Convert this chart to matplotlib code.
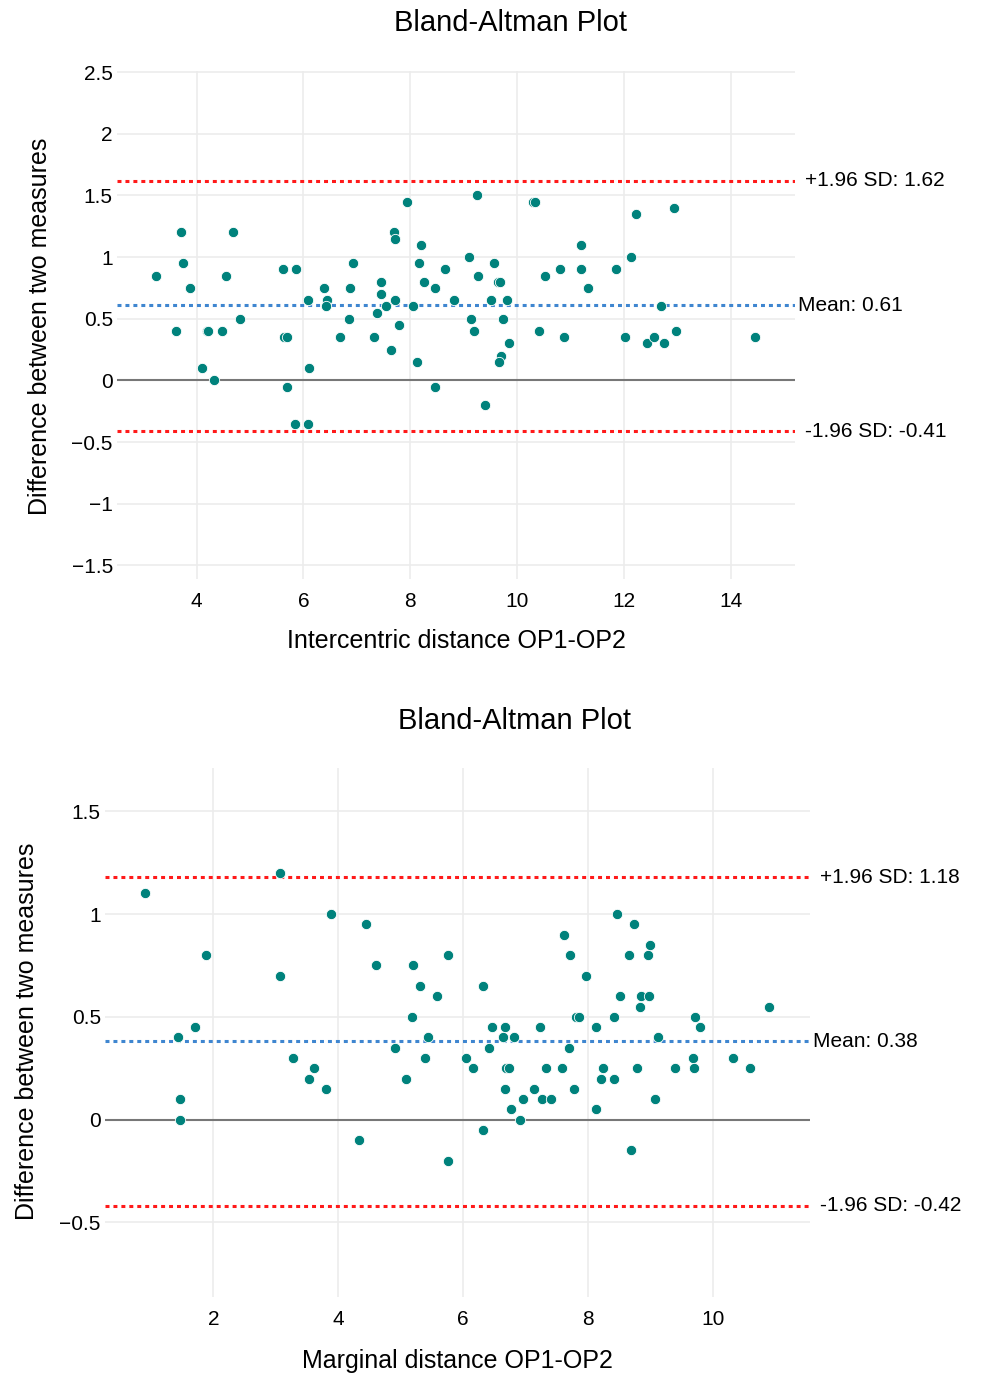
# Bland-Altman plots for OP1-OP2 distances
import matplotlib
matplotlib.use("Agg")
import matplotlib.pyplot as plt
from matplotlib.ticker import FuncFormatter

plt.rcParams['font.family'] = ['Liberation Sans', 'DejaVu Sans']

# intercentric distance: mean of two measures (x) and difference (y)
inter_x = [3.24, 3.70, 3.74, 3.88, 3.61, 4.11, 4.19, 4.22, 4.33, 4.48, 4.55, 4.68, 4.82,
           5.61, 5.87, 5.64, 5.70, 5.70, 5.84, 6.09, 6.09, 6.11, 6.39, 6.44, 6.42, 6.68,
           6.88, 6.93, 6.86, 7.33, 7.38, 7.46, 7.46, 7.55, 7.63, 7.69, 7.72, 7.72, 7.78,
           7.93, 8.05, 8.13, 8.17, 8.20, 8.25, 8.47, 8.47, 8.65, 8.82, 9.24, 9.09, 9.27,
           9.14, 9.19, 9.39, 9.56, 9.64, 9.68, 9.51, 9.81, 9.74, 9.84, 9.69, 9.66, 10.30,
           10.34, 10.40, 10.53, 10.80, 10.88, 11.20, 11.20, 11.33, 11.85, 12.02, 12.14,
           12.22, 12.44, 12.57, 12.69, 12.74, 12.94, 12.98, 14.45]
inter_y = [0.85, 1.20, 0.95, 0.75, 0.40, 0.10, 0.40, 0.40, 0.00, 0.40, 0.85, 1.20, 0.50,
           0.90, 0.90, 0.35, 0.35, -0.05, -0.35, -0.35, 0.65, 0.10, 0.75, 0.65, 0.60, 0.35,
           0.75, 0.95, 0.50, 0.35, 0.55, 0.80, 0.70, 0.60, 0.25, 1.20, 1.15, 0.65, 0.45,
           1.45, 0.60, 0.15, 0.95, 1.10, 0.80, 0.75, -0.05, 0.90, 0.65, 1.50, 1.00, 0.85,
           0.50, 0.40, -0.20, 0.95, 0.80, 0.80, 0.65, 0.65, 0.50, 0.30, 0.20, 0.15, 1.45,
           1.45, 0.40, 0.85, 0.90, 0.35, 1.10, 0.90, 0.75, 0.90, 0.35, 1.00,
           1.35, 0.30, 0.35, 0.60, 0.30, 1.40, 0.40, 0.35]
inter_mean, inter_upper, inter_lower = 0.61, 1.62, -0.41

# marginal distance
marg_x = [0.91, 3.07, 1.88, 3.07, 3.88, 4.45, 4.60, 5.20, 5.76, 5.30, 5.58, 5.18, 5.44,
          4.90, 5.38, 5.08, 1.43, 1.70, 1.47, 1.47, 3.28, 3.61, 3.53, 3.81, 4.33, 5.76,
          6.31, 6.04, 6.16, 6.31, 6.46, 6.41, 6.67, 6.63, 6.81, 6.69, 6.73, 6.67, 6.76,
          6.91, 6.96, 7.13, 7.23, 7.33, 7.26, 7.41, 7.61, 7.71, 7.58, 7.69, 7.78, 7.81,
          7.86, 7.96, 8.13, 8.13, 8.23, 8.20, 8.41, 8.41, 8.46, 8.51, 8.66, 8.74, 8.68,
          8.78, 8.83, 8.84, 8.97, 8.96, 8.99, 9.11, 9.07, 9.39, 9.68, 9.69, 9.71, 9.79,
          10.31, 10.59, 10.89]
marg_y = [1.10, 1.20, 0.80, 0.70, 1.00, 0.95, 0.75, 0.75, 0.80, 0.65, 0.60, 0.50, 0.40,
          0.35, 0.30, 0.20, 0.40, 0.45, 0.10, 0.00, 0.30, 0.25, 0.20, 0.15, -0.10, -0.20,
          0.65, 0.30, 0.25, -0.05, 0.45, 0.35, 0.45, 0.40, 0.40, 0.25, 0.25, 0.15, 0.05,
          0.00, 0.10, 0.15, 0.45, 0.25, 0.10, 0.10, 0.90, 0.80, 0.25, 0.35, 0.15, 0.50,
          0.50, 0.70, 0.45, 0.05, 0.25, 0.20, 0.20, 0.50, 1.00, 0.60, 0.80, 0.95, -0.15,
          0.25, 0.55, 0.60, 0.60, 0.80, 0.85, 0.40, 0.10, 0.25, 0.30, 0.25, 0.50, 0.45,
          0.30, 0.25, 0.55]
marg_mean, marg_upper, marg_lower = 0.38, 1.18, -0.42

point_color = '#00827c'
red = '#ff1a1a'
blue = '#3f86d0'


def fmt(v, pos):
    return ('%g' % v).replace('-', '\u2212')


def bland_altman(ax, x, y, mean, upper, lower, xticks, yticks, xlim, ylim):
    ax.set_xlim(*xlim)
    ax.set_ylim(*ylim)
    ax.set_xticks(xticks)
    ax.set_yticks(yticks)
    ax.grid(True, color='#ececec', linewidth=1.2)
    ax.set_axisbelow(True)
    for s in ax.spines.values():
        s.set_visible(False)
    ax.tick_params(axis='y', length=0, labelsize=15, pad=3)
    ax.tick_params(axis='x', length=0, labelsize=15, pad=9)
    ax.yaxis.set_major_formatter(FuncFormatter(fmt))
    ax.axhline(0, color='#777777', linewidth=1.5, zorder=1)
    for lvl, c in [(upper, red), (lower, red), (mean, blue)]:
        ax.axhline(lvl, color=c, linewidth=2.2, linestyle=(0, (1.3, 1.3)), zorder=2)
    ax.scatter(x, y, s=55, color=point_color, edgecolors='white', linewidths=0.6, zorder=3)
    lab = [(upper, '+1.96 SD: %.2f' % upper, 10), (mean, 'Mean: %.2f' % mean, 3),
           (lower, '-1.96 SD: %.2f' % lower, 10)]
    for lvl, txt, dx in lab:
        ax.annotate(txt, xy=(1, lvl), xycoords=('axes fraction', 'data'),
                    xytext=(dx, 0), textcoords='offset pixels',
                    va='center', ha='left', fontsize=15, annotation_clip=False)


fig = plt.figure(figsize=(9.88, 13.75), dpi=100)
ax1 = fig.add_axes([0.1184, 0.5789, 0.6862, 0.3695])
ax2 = fig.add_axes([0.1063, 0.0567, 0.7136, 0.3847])

bland_altman(ax1, inter_x, inter_y, inter_mean, inter_upper, inter_lower,
             [4, 6, 8, 10, 12, 14], [-1.5, -1, -0.5, 0, 0.5, 1, 1.5, 2, 2.5],
             (2.51, 15.2), (-1.61, 2.51))
bland_altman(ax2, marg_x, marg_y, marg_mean, marg_upper, marg_lower,
             [2, 4, 6, 8, 10], [-0.5, 0, 0.5, 1, 1.5],
             (0.267, 11.55), (-0.863, 1.71))

# titles and axis labels placed as in the original layout
fig.text(510 / 988, 1 - 23 / 1375, 'Bland-Altman Plot', ha='center', va='center', fontsize=21)
fig.text(514 / 988, 1 - 721 / 1375, 'Bland-Altman Plot', ha='center', va='center', fontsize=21)
fig.text(456 / 988, 1 - 641 / 1375, 'Intercentric distance OP1-OP2', ha='center', va='center', fontsize=18)
fig.text(457 / 988, 1 - 1361 / 1375, 'Marginal distance OP1-OP2', ha='center', va='center', fontsize=18)
fig.text(40 / 988, 1 - 326 / 1375, 'Difference between two measures', rotation=90,
         ha='center', va='center', fontsize=18)
fig.text(27 / 988, 1 - 1031 / 1375, 'Difference between two measures', rotation=90,
         ha='center', va='center', fontsize=18)

fig.savefig('out.png', dpi=100)
